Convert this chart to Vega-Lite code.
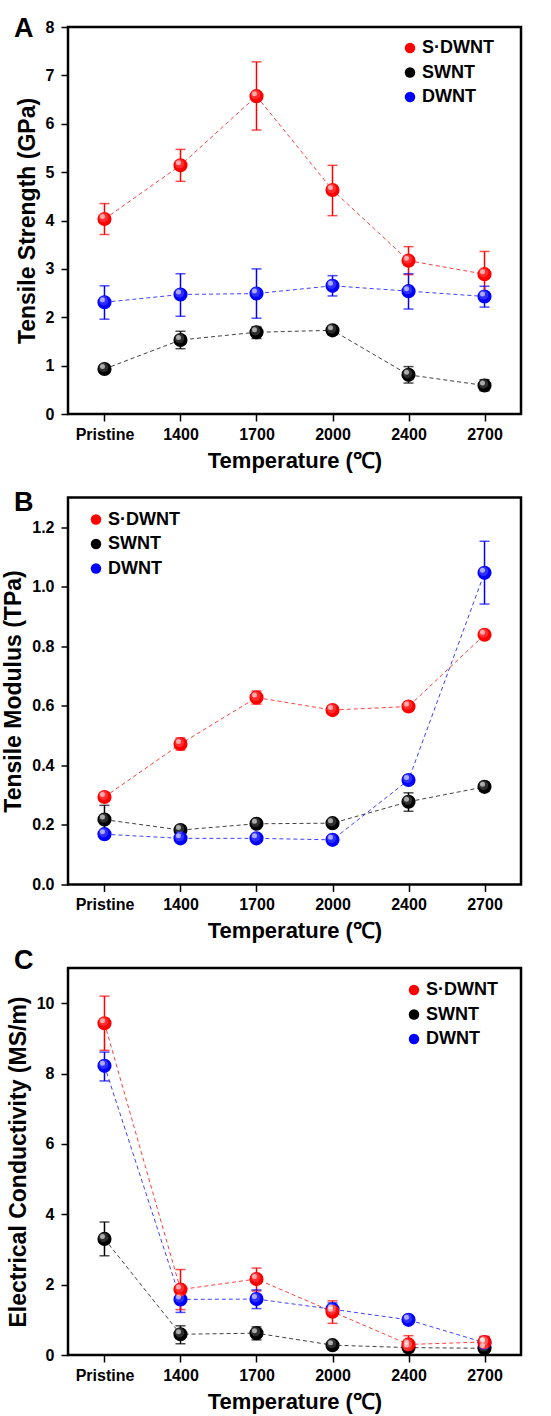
{
  "$schema": "https://vega.github.io/schema/vega-lite/v6.json",
  "background": "white",
  "padding": {"left": 1, "top": 13, "right": 0, "bottom": 0},
  "bounds": "flush",
  "spacing": 83.5,
  "config": {
    "view": {"stroke": "black", "strokeWidth": 2.5},
    "axis": {
      "labelFont": "Liberation Sans", "labelFontSize": 16, "labelFontWeight": "bold", "labelColor": "black",
      "titleFont": "Liberation Sans", "titleFontWeight": "bold", "titleColor": "black",
      "tickColor": "black", "tickWidth": 1.5, "grid": false, "domain": false
    },
    "legend": {
      "symbolType": "circle", "symbolSize": 110, "symbolStrokeWidth": 0,
      "labelFont": "Liberation Sans", "labelFontSize": 18, "labelFontWeight": "bold", "labelColor": "black",
      "rowPadding": 6.5, "labelOffset": 3, "padding": 0
    },
    "title": {"font": "Liberation Sans", "fontSize": 27, "fontWeight": "bold", "color": "black", "anchor": "start", "frame": "group", "offset": 0, "baseline": "alphabetic"}
  },
  "resolve": {
    "scale": {"x": "independent", "y": "independent", "color": "independent", "stroke": "independent", "fill": "independent"},
    "axis": {"x": "independent", "y": "independent"},
    "legend": {"color": "independent"}
  },
  "vconcat": [
    {
      "title": {"text": "A", "dx": -54, "dy": 28},
      "width": 453, "height": 387,
      "data": {"values": [
        {"temp": "Pristine", "series": "SWNT", "v": 0.93, "lo": 0.86, "hi": 1.0},
        {"temp": "1400", "series": "SWNT", "v": 1.53, "lo": 1.35, "hi": 1.71},
        {"temp": "1700", "series": "SWNT", "v": 1.69, "lo": 1.56, "hi": 1.8},
        {"temp": "2000", "series": "SWNT", "v": 1.73, "lo": 1.64, "hi": 1.82},
        {"temp": "2400", "series": "SWNT", "v": 0.81, "lo": 0.64, "hi": 0.98},
        {"temp": "2700", "series": "SWNT", "v": 0.59, "lo": 0.48, "hi": 0.71},
        {"temp": "Pristine", "series": "DWNT", "v": 2.31, "lo": 1.96, "hi": 2.65},
        {"temp": "1400", "series": "DWNT", "v": 2.47, "lo": 2.02, "hi": 2.9},
        {"temp": "1700", "series": "DWNT", "v": 2.49, "lo": 1.98, "hi": 3.0},
        {"temp": "2000", "series": "DWNT", "v": 2.65, "lo": 2.44, "hi": 2.86},
        {"temp": "2400", "series": "DWNT", "v": 2.54, "lo": 2.17, "hi": 2.9},
        {"temp": "2700", "series": "DWNT", "v": 2.43, "lo": 2.21, "hi": 2.64},
        {"temp": "Pristine", "series": "S·DWNT", "v": 4.03, "lo": 3.71, "hi": 4.35},
        {"temp": "1400", "series": "S·DWNT", "v": 5.14, "lo": 4.81, "hi": 5.47},
        {"temp": "1700", "series": "S·DWNT", "v": 6.57, "lo": 5.87, "hi": 7.28},
        {"temp": "2000", "series": "S·DWNT", "v": 4.63, "lo": 4.1, "hi": 5.14},
        {"temp": "2400", "series": "S·DWNT", "v": 3.17, "lo": 2.88, "hi": 3.46},
        {"temp": "2700", "series": "S·DWNT", "v": 2.89, "lo": 2.4, "hi": 3.36}
      ]},
      "encoding": {
        "x": {"field": "temp", "type": "ordinal", "sort": ["Pristine", "1400", "1700", "2000", "2400", "2700"],
          "scale": {"type": "point", "padding": 0.48},
          "axis": {"title": "Temperature (℃)", "labelAngle": 0, "tickSize": 7, "labelPadding": 5, "titleFontSize": 22, "titlePadding": 8}}
      },
      "layer": [
        {"mark": {"type": "line", "strokeDash": [4, 3], "strokeWidth": 1, "opacity": 0.75},
          "encoding": {
            "y": {"field": "v", "type": "quantitative", "title": "Tensile Strength (GPa)", "scale": {"domain": [0, 8], "nice": false, "zero": false},
              "axis": {"values": [0, 0.5, 1, 1.5, 2, 2.5, 3, 3.5, 4, 4.5, 5, 5.5, 6, 6.5, 7, 7.5, 8],
                "labelExpr": "datum.value % 1 === 0 ? datum.label : ''",
                "tickSize": {"condition": {"test": "datum.value % 1 !== 0", "value": 4}, "value": 7},
                "labelPadding": 7, "titleFontSize": 23, "titlePadding": 6}},
            "stroke": {"field": "series", "type": "nominal", "scale": {"domain": ["DWNT", "SWNT", "S·DWNT"], "range": ["#0000ff", "#000000", "#ff0000"]}, "legend": null}
          }},
        {"mark": {"type": "rule", "strokeWidth": 1.5},
          "encoding": {
            "y": {"field": "lo", "type": "quantitative", "title": "Tensile Strength (GPa)", "scale": {"domain": [0, 8], "nice": false, "zero": false}},
            "y2": {"field": "hi"},
            "stroke": {"field": "series", "type": "nominal", "scale": {"domain": ["DWNT", "SWNT", "S·DWNT"], "range": ["#0000ff", "#000000", "#ff0000"]}, "legend": null}
          }},
        {"mark": {"type": "tick", "thickness": 1.5, "size": 10},
          "encoding": {
            "y": {"field": "lo", "type": "quantitative", "title": "Tensile Strength (GPa)", "scale": {"domain": [0, 8], "nice": false, "zero": false}},
            "fill": {"field": "series", "type": "nominal", "scale": {"domain": ["SWNT", "DWNT", "S·DWNT"], "range": ["#000000", "#0000ff", "#ff0000"]}, "legend": null}
          }},
        {"mark": {"type": "tick", "thickness": 1.5, "size": 10},
          "encoding": {
            "y": {"field": "hi", "type": "quantitative", "title": "Tensile Strength (GPa)", "scale": {"domain": [0, 8], "nice": false, "zero": false}},
            "fill": {"field": "series", "type": "nominal", "scale": {"domain": ["SWNT", "DWNT", "S·DWNT"], "range": ["#000000", "#0000ff", "#ff0000"]}, "legend": null}
          }},
        {"mark": {"type": "circle", "size": 200, "opacity": 1},
          "encoding": {
            "y": {"field": "v", "type": "quantitative", "title": "Tensile Strength (GPa)", "scale": {"domain": [0, 8], "nice": false, "zero": false}},
            "color": {"field": "series", "type": "nominal", "scale": {"domain": ["S·DWNT", "SWNT", "DWNT"], "range": ["#ff0000", "#000000", "#0000ff"]},
              "legend": {"title": null, "orient": "none", "legendX": 333, "legendY": 12}}
          }},
        {"mark": {"type": "circle", "size": 90, "color": "white", "opacity": 0.18, "xOffset": -1, "yOffset": -1.5},
          "encoding": {"y": {"field": "v", "type": "quantitative", "title": "Tensile Strength (GPa)", "scale": {"domain": [0, 8], "nice": false, "zero": false}}}},
        {"mark": {"type": "circle", "size": 25, "color": "white", "opacity": 0.6, "xOffset": -2, "yOffset": -2.5},
          "encoding": {"y": {"field": "v", "type": "quantitative", "title": "Tensile Strength (GPa)", "scale": {"domain": [0, 8], "nice": false, "zero": false}}}}
      ]
    },
    {
      "title": {"text": "B", "dx": -54, "dy": 23.5},
      "width": 453, "height": 387,
      "data": {"values": [
        {"temp": "Pristine", "series": "SWNT", "v": 0.218, "lo": 0.17, "hi": 0.266},
        {"temp": "1400", "series": "SWNT", "v": 0.183, "lo": 0.173, "hi": 0.193},
        {"temp": "1700", "series": "SWNT", "v": 0.204, "lo": 0.194, "hi": 0.214},
        {"temp": "2000", "series": "SWNT", "v": 0.206, "lo": 0.196, "hi": 0.216},
        {"temp": "2400", "series": "SWNT", "v": 0.278, "lo": 0.246, "hi": 0.308},
        {"temp": "2700", "series": "SWNT", "v": 0.328, "lo": 0.313, "hi": 0.343},
        {"temp": "Pristine", "series": "DWNT", "v": 0.169, "lo": 0.159, "hi": 0.179},
        {"temp": "1400", "series": "DWNT", "v": 0.155, "lo": 0.145, "hi": 0.165},
        {"temp": "1700", "series": "DWNT", "v": 0.155, "lo": 0.145, "hi": 0.165},
        {"temp": "2000", "series": "DWNT", "v": 0.15, "lo": 0.142, "hi": 0.158},
        {"temp": "2400", "series": "DWNT", "v": 0.351, "lo": 0.341, "hi": 0.361},
        {"temp": "2700", "series": "DWNT", "v": 1.047, "lo": 0.942, "hi": 1.153},
        {"temp": "Pristine", "series": "S·DWNT", "v": 0.294, "lo": 0.282, "hi": 0.306},
        {"temp": "1400", "series": "S·DWNT", "v": 0.472, "lo": 0.452, "hi": 0.492},
        {"temp": "1700", "series": "S·DWNT", "v": 0.628, "lo": 0.606, "hi": 0.65},
        {"temp": "2000", "series": "S·DWNT", "v": 0.586, "lo": 0.578, "hi": 0.594},
        {"temp": "2400", "series": "S·DWNT", "v": 0.598, "lo": 0.586, "hi": 0.61},
        {"temp": "2700", "series": "S·DWNT", "v": 0.839, "lo": 0.829, "hi": 0.849}
      ]},
      "encoding": {
        "x": {"field": "temp", "type": "ordinal", "sort": ["Pristine", "1400", "1700", "2000", "2400", "2700"],
          "scale": {"type": "point", "padding": 0.48},
          "axis": {"title": "Temperature (℃)", "labelAngle": 0, "tickSize": 7, "labelPadding": 5, "titleFontSize": 22, "titlePadding": 8}}
      },
      "layer": [
        {"mark": {"type": "line", "strokeDash": [4, 3], "strokeWidth": 1, "opacity": 0.75},
          "encoding": {
            "y": {"field": "v", "type": "quantitative", "title": "Tensile Modulus (TPa)", "scale": {"domain": [0, 1.3], "nice": false, "zero": false},
              "axis": {"values": [0, 0.1, 0.2, 0.3, 0.4, 0.5, 0.6, 0.7, 0.8, 0.9, 1.0, 1.1, 1.2, 1.3],
                "labelExpr": "round(datum.value * 10) % 2 === 0 ? format(datum.value, '.1f') : ''",
                "tickSize": {"condition": {"test": "round(datum.value * 10) % 2 === 1", "value": 4}, "value": 7},
                "labelPadding": 7, "titleFontSize": 23, "titlePadding": 6}},
            "stroke": {"field": "series", "type": "nominal", "scale": {"domain": ["DWNT", "SWNT", "S·DWNT"], "range": ["#0000ff", "#000000", "#ff0000"]}, "legend": null}
          }},
        {"mark": {"type": "rule", "strokeWidth": 1.5},
          "encoding": {
            "y": {"field": "lo", "type": "quantitative", "title": "Tensile Modulus (TPa)", "scale": {"domain": [0, 1.3], "nice": false, "zero": false}},
            "y2": {"field": "hi"},
            "stroke": {"field": "series", "type": "nominal", "scale": {"domain": ["DWNT", "SWNT", "S·DWNT"], "range": ["#0000ff", "#000000", "#ff0000"]}, "legend": null}
          }},
        {"mark": {"type": "tick", "thickness": 1.5, "size": 10},
          "encoding": {
            "y": {"field": "lo", "type": "quantitative", "title": "Tensile Modulus (TPa)", "scale": {"domain": [0, 1.3], "nice": false, "zero": false}},
            "fill": {"field": "series", "type": "nominal", "scale": {"domain": ["SWNT", "DWNT", "S·DWNT"], "range": ["#000000", "#0000ff", "#ff0000"]}, "legend": null}
          }},
        {"mark": {"type": "tick", "thickness": 1.5, "size": 10},
          "encoding": {
            "y": {"field": "hi", "type": "quantitative", "title": "Tensile Modulus (TPa)", "scale": {"domain": [0, 1.3], "nice": false, "zero": false}},
            "fill": {"field": "series", "type": "nominal", "scale": {"domain": ["SWNT", "DWNT", "S·DWNT"], "range": ["#000000", "#0000ff", "#ff0000"]}, "legend": null}
          }},
        {"mark": {"type": "circle", "size": 200, "opacity": 1},
          "encoding": {
            "y": {"field": "v", "type": "quantitative", "title": "Tensile Modulus (TPa)", "scale": {"domain": [0, 1.3], "nice": false, "zero": false}},
            "color": {"field": "series", "type": "nominal", "scale": {"domain": ["S·DWNT", "SWNT", "DWNT"], "range": ["#ff0000", "#000000", "#0000ff"]},
              "legend": {"title": null, "orient": "none", "legendX": 19, "legendY": 13}}
          }},
        {"mark": {"type": "circle", "size": 90, "color": "white", "opacity": 0.18, "xOffset": -1, "yOffset": -1.5},
          "encoding": {"y": {"field": "v", "type": "quantitative", "title": "Tensile Modulus (TPa)", "scale": {"domain": [0, 1.3], "nice": false, "zero": false}}}},
        {"mark": {"type": "circle", "size": 25, "color": "white", "opacity": 0.6, "xOffset": -2, "yOffset": -2.5},
          "encoding": {"y": {"field": "v", "type": "quantitative", "title": "Tensile Modulus (TPa)", "scale": {"domain": [0, 1.3], "nice": false, "zero": false}}}}
      ]
    },
    {
      "title": {"text": "C", "dx": -54, "dy": 11},
      "width": 453, "height": 387,
      "data": {"values": [
        {"temp": "Pristine", "series": "SWNT", "v": 3.3, "lo": 2.82, "hi": 3.78},
        {"temp": "1400", "series": "SWNT", "v": 0.59, "lo": 0.32, "hi": 0.83},
        {"temp": "1700", "series": "SWNT", "v": 0.62, "lo": 0.43, "hi": 0.8},
        {"temp": "2000", "series": "SWNT", "v": 0.28, "lo": 0.2, "hi": 0.36},
        {"temp": "2400", "series": "SWNT", "v": 0.21, "lo": 0.1, "hi": 0.3},
        {"temp": "2700", "series": "SWNT", "v": 0.19, "lo": 0.1, "hi": 0.28},
        {"temp": "Pristine", "series": "DWNT", "v": 8.22, "lo": 7.79, "hi": 8.61},
        {"temp": "1400", "series": "DWNT", "v": 1.58, "lo": 1.21, "hi": 1.92},
        {"temp": "1700", "series": "DWNT", "v": 1.59, "lo": 1.32, "hi": 1.85},
        {"temp": "2000", "series": "DWNT", "v": 1.3, "lo": 1.12, "hi": 1.48},
        {"temp": "2400", "series": "DWNT", "v": 1.0, "lo": 0.92, "hi": 1.08},
        {"temp": "2700", "series": "DWNT", "v": 0.35, "lo": 0.18, "hi": 0.52},
        {"temp": "Pristine", "series": "S·DWNT", "v": 9.43, "lo": 8.66, "hi": 10.2},
        {"temp": "1400", "series": "S·DWNT", "v": 1.86, "lo": 1.29, "hi": 2.43},
        {"temp": "1700", "series": "S·DWNT", "v": 2.16, "lo": 1.82, "hi": 2.47},
        {"temp": "2000", "series": "S·DWNT", "v": 1.23, "lo": 0.9, "hi": 1.54},
        {"temp": "2400", "series": "S·DWNT", "v": 0.3, "lo": 0.08, "hi": 0.55},
        {"temp": "2700", "series": "S·DWNT", "v": 0.37, "lo": 0.2, "hi": 0.53}
      ]},
      "encoding": {
        "x": {"field": "temp", "type": "ordinal", "sort": ["Pristine", "1400", "1700", "2000", "2400", "2700"],
          "scale": {"type": "point", "padding": 0.48},
          "axis": {"title": "Temperature (℃)", "labelAngle": 0, "tickSize": 7, "labelPadding": 5, "titleFontSize": 22, "titlePadding": 8}}
      },
      "layer": [
        {"mark": {"type": "line", "strokeDash": [4, 3], "strokeWidth": 1, "opacity": 0.75},
          "encoding": {
            "y": {"field": "v", "type": "quantitative", "title": "Electrical Conductivity (MS/m)", "scale": {"domain": [0, 11], "nice": false, "zero": false},
              "axis": {"values": [0, 1, 2, 3, 4, 5, 6, 7, 8, 9, 10, 11],
                "labelExpr": "datum.value % 2 === 0 ? datum.label : ''",
                "tickSize": {"condition": {"test": "datum.value % 2 === 1", "value": 4}, "value": 7},
                "labelPadding": 7, "titleFontSize": 23, "titlePadding": 6}},
            "stroke": {"field": "series", "type": "nominal", "scale": {"domain": ["DWNT", "SWNT", "S·DWNT"], "range": ["#0000ff", "#000000", "#ff0000"]}, "legend": null}
          }},
        {"mark": {"type": "rule", "strokeWidth": 1.5},
          "encoding": {
            "y": {"field": "lo", "type": "quantitative", "title": "Electrical Conductivity (MS/m)", "scale": {"domain": [0, 11], "nice": false, "zero": false}},
            "y2": {"field": "hi"},
            "stroke": {"field": "series", "type": "nominal", "scale": {"domain": ["DWNT", "SWNT", "S·DWNT"], "range": ["#0000ff", "#000000", "#ff0000"]}, "legend": null}
          }},
        {"mark": {"type": "tick", "thickness": 1.5, "size": 10},
          "encoding": {
            "y": {"field": "lo", "type": "quantitative", "title": "Electrical Conductivity (MS/m)", "scale": {"domain": [0, 11], "nice": false, "zero": false}},
            "fill": {"field": "series", "type": "nominal", "scale": {"domain": ["SWNT", "DWNT", "S·DWNT"], "range": ["#000000", "#0000ff", "#ff0000"]}, "legend": null}
          }},
        {"mark": {"type": "tick", "thickness": 1.5, "size": 10},
          "encoding": {
            "y": {"field": "hi", "type": "quantitative", "title": "Electrical Conductivity (MS/m)", "scale": {"domain": [0, 11], "nice": false, "zero": false}},
            "fill": {"field": "series", "type": "nominal", "scale": {"domain": ["SWNT", "DWNT", "S·DWNT"], "range": ["#000000", "#0000ff", "#ff0000"]}, "legend": null}
          }},
        {"mark": {"type": "circle", "size": 200, "opacity": 1},
          "encoding": {
            "y": {"field": "v", "type": "quantitative", "title": "Electrical Conductivity (MS/m)", "scale": {"domain": [0, 11], "nice": false, "zero": false}},
            "color": {"field": "series", "type": "nominal", "scale": {"domain": ["S·DWNT", "SWNT", "DWNT"], "range": ["#ff0000", "#000000", "#0000ff"]},
              "legend": {"title": null, "orient": "none", "legendX": 337, "legendY": 13}}
          }},
        {"mark": {"type": "circle", "size": 90, "color": "white", "opacity": 0.18, "xOffset": -1, "yOffset": -1.5},
          "encoding": {"y": {"field": "v", "type": "quantitative", "title": "Electrical Conductivity (MS/m)", "scale": {"domain": [0, 11], "nice": false, "zero": false}}}},
        {"mark": {"type": "circle", "size": 25, "color": "white", "opacity": 0.6, "xOffset": -2, "yOffset": -2.5},
          "encoding": {"y": {"field": "v", "type": "quantitative", "title": "Electrical Conductivity (MS/m)", "scale": {"domain": [0, 11], "nice": false, "zero": false}}}}
      ]
    }
  ]
}
